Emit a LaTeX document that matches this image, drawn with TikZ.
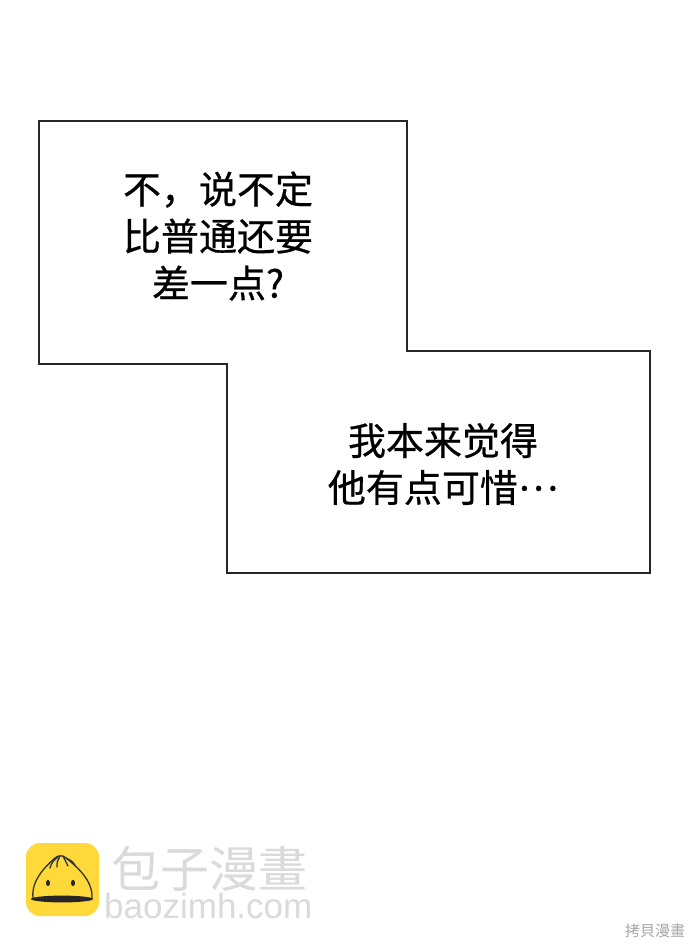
\documentclass[tikz,border=0pt]{standalone}
\usepackage{fontspec}
\setmainfont{Liberation Sans}
\newfontfamily\cjk[FakeBold=0.6]{Noto Sans CJK SC}
\newfontfamily\cjkplain{Noto Sans CJK SC}
\usetikzlibrary{positioning}
\definecolor{bunyellow}{HTML}{FFD83A}
\definecolor{wmgray}{HTML}{DADADA}
\tikzset{panelline/.style={draw=black!85, line width=1.8pt, fill=white}}
\tikzset{saytext/.style={align=center, inner sep=0pt, font=\cjk\fontsize{38}{47}\selectfont}}
\tikzset{wmark/.style={inner sep=0pt, text=wmgray}}
\tikzset{bunink/.style={draw=black!80, line width=1.3pt, line cap=round}}

\begin{document}
\begin{tikzpicture}[x=1pt, y=-1pt]
			\useasboundingbox[fill=white] (0,0) rectangle (690,948);
			% outline of both boxes
			\draw[panelline] (39,121) -- (407,121) -- (407,351) -- (650,351)
				-- (650,573) -- (227,573) -- (227,364) -- (39,364) -- cycle;
			\node[saytext] (say1) at (218,236) {不，说不定\\比普通还要\\差一点?};
			\node[saytext] (say2) at (443,464) {我本来觉得\\他有点可惜\raisebox{.3em}{…}};
			%
			\node[fill=bunyellow, rounded corners=14pt, minimum size=73pt] (logo) at (62.5,879.5) {};
			\draw[bunink, fill=bunyellow] (33,898) .. controls (31,880) and (46,866) .. (55,858)
				.. controls (58,855) and (63,855) .. (66,858)
				.. controls (76,866) and (93,880) .. (92,898);
			\draw[bunink] (58,857) .. controls (52,862) .. (50,868);
			\draw[bunink] (60,856) .. controls (57,862) .. (57,867);
			\draw[bunink] (63,856) .. controls (66,861) .. (68,866);
			\draw[bunink] (66,858) .. controls (72,861) .. (75,865);
			\fill[black!85] (48,883) ellipse (2 and 3.2);
			\fill[black!85] (73,883) ellipse (2 and 3.2);
			\fill[black!85] (62,899) ellipse (31 and 3.4);
			\node[wmark, font=\cjkplain\fontsize{49}{49}\selectfont, anchor=north west] (wmcn) at (111,846) {包子漫畫};
			\node[wmark, font=\fontsize{35}{35}\selectfont, anchor=south west] (wmurl) at (104,919) {baozimh.com};
			\node[inner sep=0pt, text=gray!70, font=\cjkplain\fontsize{15}{15}\selectfont] (credit) at (655,931) {拷貝漫畫};
		\end{tikzpicture}
\end{document}
